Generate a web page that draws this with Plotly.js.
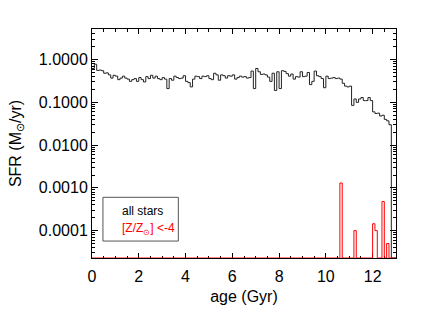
<!DOCTYPE html>
<html>
<head>
<meta charset="utf-8">
<script src="https://cdn.plot.ly/plotly-3.0.1.min.js"></script>
<style>html,body{margin:0;padding:0;background:#fff;}#chart{width:423px;height:318px;}</style>
</head>
<body>
<div id="chart"></div>
<script>
// Histogram bins: 0.1 Gyr wide, starting at 0.0 Gyr
var binWidth = 0.1;
var sfrAll = [
  0.62, 0.78, 0.56, 0.57, 0.55, 0.48, 0.49, 0.44, 0.37, 0.43,
  0.41, 0.34, 0.37, 0.41, 0.37, 0.35, 0.31, 0.34, 0.36, 0.31,
  0.38, 0.34, 0.30, 0.40, 0.36, 0.43, 0.37, 0.41, 0.36, 0.34,
  0.38, 0.35, 0.21, 0.36, 0.33, 0.41, 0.38, 0.36, 0.37, 0.42,
  0.31, 0.29, 0.23, 0.35, 0.41, 0.40, 0.36, 0.41, 0.40, 0.42,
  0.36, 0.34, 0.48, 0.44, 0.33, 0.44, 0.42, 0.37, 0.42, 0.41,
  0.44, 0.35, 0.38, 0.41, 0.39, 0.40, 0.37, 0.38, 0.54, 0.21,
  0.62, 0.52, 0.45, 0.46, 0.44, 0.39, 0.31, 0.48, 0.19, 0.52,
  0.21, 0.55, 0.53, 0.47, 0.41, 0.46, 0.35, 0.40, 0.39, 0.52,
  0.40, 0.41, 0.50, 0.26, 0.31, 0.54, 0.42, 0.40, 0.36, 0.22,
  0.41, 0.36, 0.37, 0.38, 0.36, 0.37, 0.35, 0.28, 0.24, 0.23,
  0.24, 0.085, 0.12, 0.10, 0.12, 0.13, 0.11, 0.11, 0.13, 0.11,
  0.060, 0.055, 0.056, 0.048, 0.050, 0.040, 0.037, 0.030, 0, 0
];
// metal-poor ([Z/Zsun] < -4) SFR: nonzero bins only (bin start age -> value)
var poorBinStarts = [10.6, 11.2, 12.0, 12.1, 12.4, 12.6];
var poorValues    = [0.0013, 0.0001, 0.000145, 0.0001, 0.00048, 0.00005];

var yTickVals = [0.0001, 0.001, 0.01, 0.1, 1];
var yTickText = ["0.0001", "0.0010", "0.0100", "0.1000", "1.0000"];

var yMinLog = -4.64, yMaxLog = 0.716;
var FLOOR = Math.pow(10, yMinLog);

function stepTrace(vals, color) {
  var xs = [], ys = [];
  for (var i = 0; i < vals.length; i++) {
    xs.push(+(i * binWidth).toFixed(3));
    ys.push(vals[i] > 0 ? vals[i] : FLOOR);
  }
  xs.push(+(vals.length * binWidth).toFixed(3));
  ys.push(vals[vals.length - 1] > 0 ? vals[vals.length - 1] : FLOOR);
  return {x: xs, y: ys, type: 'scatter', mode: 'lines', line: {shape: 'hv', color: color, width: 1},
          hoverinfo: 'skip', showlegend: false, cliponaxis: true};
}

// expand metal-poor values to full bin grid
var poorAll = sfrAll.map(function(){ return 0; });
poorBinStarts.forEach(function(s, k){ poorAll[Math.round(s / binWidth)] = poorValues[k]; });

var minorY = [];
for (var d = -5; d <= 0; d++) for (var m = 2; m <= 9; m++) minorY.push(m * Math.pow(10, d));

var font = {family: 'Liberation Sans, Arial, Helvetica, sans-serif', size: 16, color: '#000'};

var layout = {
  width: 423, height: 318,
  margin: {l: 92, r: 27, t: 29, b: 60, pad: 0},
  paper_bgcolor: '#fff', plot_bgcolor: '#fff',
  font: font,
  xaxis: {
    range: [0, 13], dtick: 2, tick0: 0, ticks: 'inside', ticklen: 5, tickwidth: 1, tickcolor: '#000',
    minor: {dtick: 0.5, ticks: 'inside', ticklen: 2.5, tickcolor: '#000'},
    showline: true, linecolor: '#000', linewidth: 1, mirror: 'allticks',
    showgrid: false, zeroline: false, layer: 'below traces',
    tickfont: font, ticklabelstandoff: 4,
    title: {text: 'age (Gyr)', font: font, standoff: 6}
  },
  yaxis: {
    type: 'log', range: [yMinLog, yMaxLog], tickvals: yTickVals, ticktext: yTickText,
    ticks: 'inside', ticklen: 6, tickwidth: 1, tickcolor: '#000',
    minor: {tickvals: minorY, ticks: 'inside', ticklen: 3, tickcolor: '#000'},
    showline: true, linecolor: '#000', linewidth: 1, mirror: 'allticks',
    showgrid: false, zeroline: false,
    tickfont: font,
    title: {text: 'SFR (M<sub>\u2299</sub>/yr)', font: font, standoff: 13}
  },
  shapes: [{type: 'rect', xref: 'paper', yref: 'paper', x0: 0.036, x1: 0.284, y0: 0.074, y1: 0.265,
            line: {color: '#555', width: 1}, fillcolor: 'rgba(0,0,0,0)'}],
  annotations: [
    {xref: 'paper', yref: 'paper', x: 0.092, y: 0.205, xanchor: 'left', yanchor: 'middle', showarrow: false,
     text: 'all stars', font: {family: font.family, size: 12, color: '#000'}},
    {xref: 'paper', yref: 'paper', x: 0.092, y: 0.127, xanchor: 'left', yanchor: 'middle', showarrow: false,
     text: '[Z/Z<sub>\u2299</sub>] <-4', font: {family: font.family, size: 12, color: '#ff0000'}}
  ]
};

Plotly.newPlot('chart', [stepTrace(sfrAll, '#222'), stepTrace(poorAll, '#ff0000')], layout,
  {staticPlot: true, displayModeBar: false});
</script>
</body>
</html>
